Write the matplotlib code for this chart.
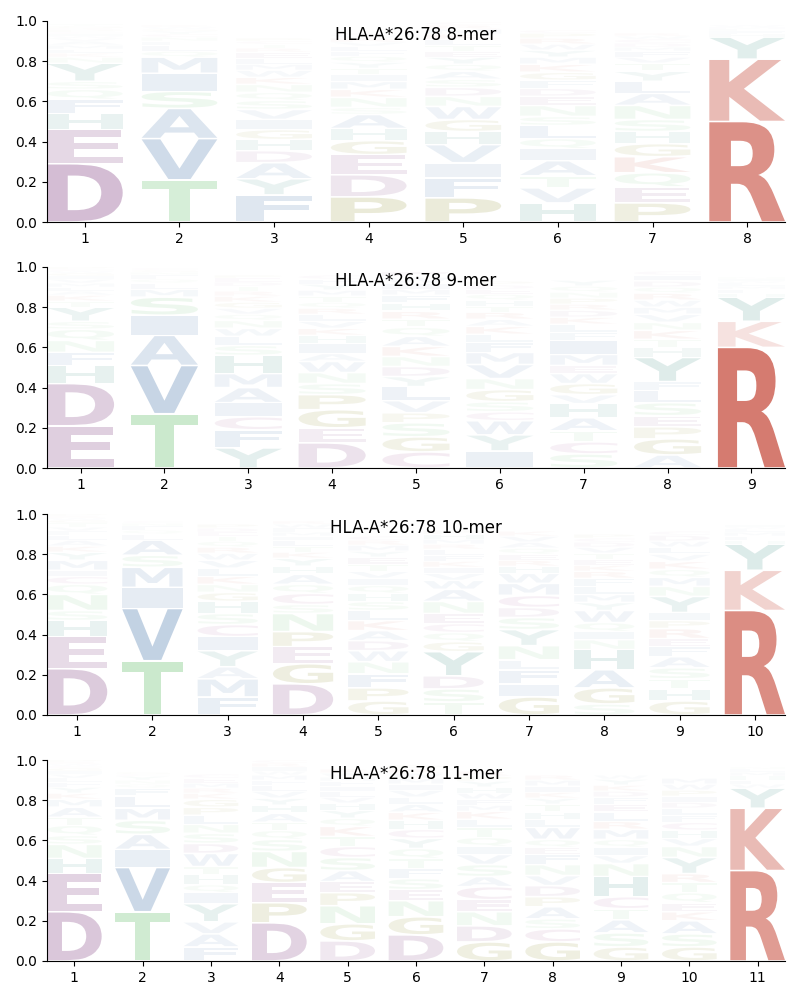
import matplotlib
matplotlib.use("Agg")
import matplotlib.pyplot as plt
from matplotlib.textpath import TextPath
from matplotlib.patches import PathPatch
from matplotlib.font_manager import FontProperties
from matplotlib.transforms import Affine2D

allele = "HLA-A*26:78"
lengths = [8, 9, 10, 11]

# letter frequencies per position, listed bottom -> top as stacked in the logo
mer8 = [
    {'D': .29, 'E': .17, 'H': .08, 'F': .07, 'Q': .05, 'S': .04, 'Y': .09, 'N': .03, 'K': .02, 'L': .02,
     'M': .02, 'A': .02, 'V': .015, 'W': .01, 'I': .01, 'C': .01, 'P': .01, 'R': .01, 'G': .01, 'T': .01},
    {'T': .21, 'V': .205, 'A': .15, 'S': .085, 'I': .09, 'M': .08, 'Q': .03, 'L': .03, 'F': .02, 'N': .02,
     'C': .015, 'Y': .015, 'G': .01, 'W': .01, 'K': .01},
    {'F': .135, 'Y': .08, 'A': .08, 'D': .06, 'H': .055, 'G': .05, 'I': .05, 'V': .05, 'S': .045, 'Q': .04,
     'N': .04, 'K': .035, 'W': .035, 'M': .03, 'L': .03, 'E': .03, 'R': .02, 'T': .02, 'C': .015, 'P': .015},
    {'P': .125, 'D': .11, 'E': .10, 'G': .07, 'H': .06, 'A': .07, 'S': .035, 'N': .05, 'K': .04, 'M': .04,
     'I': .035, 'T': .03, 'Y': .03, 'Q': .03, 'F': .025, 'L': .025, 'V': .02, 'R': .02, 'W': .015, 'C': .01},
    {'P': .12, 'F': .10, 'I': .075, 'V': .09, 'H': .065, 'G': .06, 'W': .065, 'N': .05, 'D': .045, 'S': .04,
     'A': .04, 'Q': .035, 'Y': .035, 'E': .03, 'T': .03, 'L': .03, 'K': .025, 'M': .025, 'R': .02, 'C': .015},
    {'H': .095, 'V': .075, 'T': .06, 'A': .075, 'I': .06, 'Q': .05, 'L': .065, 'S': .045, 'N': .055, 'E': .045,
     'D': .04, 'F': .04, 'G': .04, 'K': .04, 'M': .035, 'Y': .035, 'W': .03, 'R': .03, 'P': .025, 'C': .015},
    {'P': .095, 'E': .08, 'Q': .07, 'K': .08, 'G': .065, 'H': .06, 'S': .06, 'N': .07, 'A': .06, 'L': .06,
     'Y': .05, 'T': .04, 'V': .03, 'F': .03, 'M': .02, 'D': .02, 'C': .02, 'W': .015, 'R': .015},
    {'R': .50, 'K': .31, 'Y': .11, 'H': .015, 'F': .015, 'L': .01, 'M': .01, 'W': .01},
]

mer9 = [
    {'E': .21, 'D': .21, 'H': .09, 'F': .065, 'N': .06, 'Q': .055, 'S': .04, 'Y': .07, 'T': .03, 'K': .03,
     'A': .02, 'L': .02, 'M': .02, 'V': .02, 'I': .015, 'G': .015, 'W': .01, 'C': .01, 'P': .01, 'R': .01},
    {'T': .27, 'V': .24, 'A': .15, 'I': .10, 'S': .09, 'M': .04, 'L': .03, 'Q': .02, 'F': .02, 'N': .015,
     'G': .01, 'C': .01},
    {'Y': .10, 'F': .09, 'C': .065, 'I': .07, 'A': .075, 'M': .07, 'H': .09, 'S': .05, 'L': .045, 'W': .04,
     'N': .04, 'Q': .03, 'V': .03, 'G': .03, 'K': .03, 'R': .025, 'T': .025, 'D': .02, 'E': .02, 'P': .015},
    {'D': .125, 'E': .075, 'G': .09, 'P': .075, 'S': .055, 'N': .055, 'W': .055, 'A': .04, 'I': .05, 'H': .04,
     'K': .035, 'V': .035, 'L': .035, 'R': .03, 'Q': .03, 'T': .03, 'M': .03, 'Y': .03, 'F': .025, 'C': .02},
    {'C': .08, 'G': .075, 'S': .07, 'P': .05, 'V': .06, 'L': .07, 'Y': .05, 'D': .05, 'N': .05, 'K': .05,
     'A': .05, 'Q': .045, 'T': .04, 'R': .04, 'H': .04, 'F': .04, 'M': .03, 'I': .03, 'W': .03, 'E': .03},
    {'I': .085, 'Y': .08, 'W': .07, 'C': .045, 'S': .05, 'G': .06, 'N': .055, 'V': .07, 'M': .06, 'F': .05,
     'L': .04, 'K': .04, 'A': .035, 'R': .035, 'T': .03, 'H': .03, 'Q': .03, 'E': .025, 'D': .02, 'P': .02},
    {'S': .07, 'C': .06, 'T': .055, 'A': .065, 'H': .07, 'V': .045, 'G': .055, 'W': .05, 'E': .04, 'M': .055,
     'I': .07, 'F': .04, 'L': .04, 'K': .035, 'D': .035, 'R': .03, 'P': .03, 'N': .03, 'Q': .03, 'Y': .03},
    {'A': .065, 'G': .08, 'P': .06, 'E': .055, 'S': .065, 'L': .06, 'F': .045, 'Y': .12, 'H': .05, 'T': .04,
     'K': .045, 'N': .04, 'V': .04, 'M': .035, 'W': .035, 'R': .035, 'Q': .03, 'D': .03, 'I': .03, 'C': .02},
    {'R': .60, 'K': .13, 'Y': .12, 'H': .02, 'F': .02, 'M': .015, 'L': .015, 'W': .01, 'I': .01, 'N': .01},
]

mer10 = [
    {'D': .23, 'E': .16, 'H': .08, 'S': .05, 'N': .08, 'Q': .05, 'C': .04, 'I': .03, 'M': .05, 'Y': .04,
     'K': .03, 'A': .03, 'L': .025, 'F': .02, 'V': .02, 'T': .02, 'G': .015, 'W': .01, 'R': .01, 'P': .01},
    {'T': .27, 'V': .26, 'I': .105, 'M': .10, 'S': .06, 'A': .075, 'L': .03, 'Q': .02, 'F': .02, 'N': .015,
     'C': .01},
    {'F': .09, 'M': .09, 'A': .06, 'Y': .08, 'I': .07, 'C': .06, 'S': .055, 'H': .06, 'G': .045, 'N': .04,
     'K': .04, 'L': .04, 'V': .04, 'W': .035, 'R': .03, 'Q': .03, 'T': .025, 'E': .02, 'D': .02, 'P': .02},
    {'D': .155, 'G': .10, 'E': .085, 'P': .075, 'N': .09, 'S': .045, 'C': .055, 'Q': .045, 'A': .05, 'H': .04,
     'Y': .04, 'K': .03, 'T': .03, 'L': .03, 'I': .02, 'M': .02, 'F': .02, 'W': .02, 'R': .015},
    {'G': .07, 'P': .065, 'F': .07, 'N': .06, 'W': .055, 'D': .05, 'A': .05, 'K': .05, 'L': .05, 'S': .045,
     'H': .04, 'Q': .04, 'I': .035, 'V': .035, 'T': .035, 'E': .035, 'Y': .03, 'M': .03, 'R': .025, 'C': .02},
    {'T': .065, 'S': .065, 'D': .065, 'Y': .12, 'G': .05, 'Q': .045, 'C': .045, 'E': .05, 'N': .06, 'A': .06,
     'W': .045, 'V': .035, 'I': .03, 'K': .03, 'F': .03, 'L': .03, 'R': .025, 'M': .025, 'H': .025, 'P': .02},
    {'G': .09, 'I': .065, 'F': .07, 'L': .05, 'N': .07, 'Y': .08, 'S': .06, 'D': .05, 'C': .06, 'M': .06,
     'W': .05, 'H': .035, 'R': .03, 'E': .03, 'Q': .03, 'A': .03, 'V': .03, 'K': .025},
    {'S': .055, 'G': .08, 'A': .09, 'H': .10, 'N': .05, 'I': .04, 'Q': .045, 'W': .06, 'Y': .04, 'M': .04,
     'L': .04, 'F': .04, 'R': .035, 'K': .03, 'E': .03, 'T': .03, 'V': .03, 'D': .025, 'C': .02, 'P': .02},
    {'G': .07, 'H': .06, 'T': .05, 'S': .055, 'A': .055, 'F': .05, 'E': .04, 'R': .05, 'P': .04, 'I': .04,
     'Y': .08, 'N': .05, 'M': .045, 'Q': .04, 'K': .04, 'V': .035, 'L': .035, 'W': .03, 'D': .03, 'C': .02},
    {'R': .52, 'K': .20, 'Y': .13, 'H': .02, 'F': .02, 'M': .02, 'L': .015, 'W': .01, 'I': .01},
]

mer11 = [
    {'D': .245, 'E': .19, 'H': .075, 'N': .07, 'S': .045, 'Q': .05, 'T': .04, 'A': .05, 'M': .04, 'K': .03,
     'Y': .03, 'F': .025, 'L': .02, 'V': .02, 'I': .015, 'G': .015, 'C': .01, 'W': .01, 'R': .01, 'P': .01},
    {'T': .245, 'V': .22, 'I': .09, 'A': .075, 'S': .07, 'M': .06, 'L': .06, 'F': .04, 'Q': .02, 'N': .02,
     'Y': .02, 'C': .01, 'G': .01},
    {'F': .07, 'A': .065, 'V': .06, 'Y': .09, 'I': .055, 'Q': .04, 'H': .05, 'T': .04, 'W': .065, 'D': .05,
     'S': .05, 'N': .045, 'L': .045, 'P': .04, 'G': .04, 'K': .03, 'R': .025, 'M': .025, 'E': .025, 'C': .02},
    {'D': .19, 'P': .10, 'E': .10, 'G': .075, 'N': .08, 'S': .06, 'Q': .045, 'T': .04, 'A': .045, 'H': .04,
     'Y': .035, 'V': .035, 'L': .03, 'F': .025, 'M': .025, 'W': .02, 'I': .02, 'R': .02, 'C': .015},
    {'D': .10, 'G': .085, 'N': .09, 'P': .065, 'E': .055, 'A': .055, 'S': .065, 'C': .055, 'T': .05, 'K': .05,
     'Q': .04, 'Y': .04, 'H': .035, 'V': .03, 'L': .03, 'I': .025, 'F': .025, 'M': .02, 'W': .02, 'R': .02},
    {'D': .13, 'G': .09, 'N': .08, 'E': .055, 'S': .055, 'F': .05, 'T': .05, 'Q': .05, 'Y': .05, 'C': .045,
     'H': .045, 'K': .04, 'A': .04, 'L': .035, 'V': .035, 'I': .03, 'M': .03, 'W': .025, 'R': .02, 'P': .02},
    {'G': .095, 'D': .08, 'N': .07, 'E': .06, 'C': .065, 'A': .05, 'S': .06, 'V': .05, 'I': .04, 'Q': .045,
     'T': .05, 'L': .04, 'K': .04, 'M': .03, 'F': .03, 'W': .03, 'H': .03, 'Y': .03, 'P': .025, 'R': .025},
    {'G': .095, 'C': .065, 'S': .05, 'A': .06, 'P': .05, 'D': .055, 'V': .05, 'N': .055, 'F': .05, 'E': .035,
     'Q': .04, 'W': .06, 'L': .04, 'H': .035, 'T': .04, 'Y': .03, 'K': .03, 'I': .03, 'M': .03, 'R': .025},
    {'G': .07, 'S': .07, 'A': .065, 'T': .055, 'C': .06, 'H': .10, 'N': .065, 'V': .04, 'I': .04, 'Q': .04,
     'M': .05, 'R': .04, 'L': .045, 'E': .04, 'F': .035, 'D': .03, 'K': .03, 'Y': .03, 'W': .02},
    {'G': .07, 'S': .065, 'A': .065, 'K': .045, 'E': .045, 'Q': .05, 'T': .05, 'R': .045, 'Y': .08, 'N': .055,
     'V': .04, 'H': .04, 'C': .04, 'F': .035, 'L': .035, 'D': .03, 'I': .03, 'P': .03, 'W': .03, 'M': .03},
    {'R': .45, 'K': .31, 'Y': .10, 'W': .02, 'F': .02, 'H': .02, 'M': .02, 'L': .015, 'N': .01},
]

panels = [mer8, mer9, mer10, mer11]

red, purple, green = "#d4766a", "#a272a2", "#88ce8d"
blue, teal, olive, pink = "#6e93bd", "#5aa096", "#9a9a40", "#b06aa0"
colors = {}
for c in "RK": colors[c] = red
for c in "DE": colors[c] = purple
for c in "TSNQ": colors[c] = green
for c in "VAILMFW": colors[c] = blue
for c in "YH": colors[c] = teal
for c in "PG": colors[c] = olive
colors['C'] = pink

fp = FontProperties(family="DejaVu Sans", weight="bold")


def draw_letter(ax, ch, x, y, h, width=0.8, **kw):
    path = TextPath((0, 0), ch, size=1, prop=fp)
    bb = path.get_extents()
    t = (Affine2D().translate(-bb.x0, -bb.y0)
         .scale(width / bb.width, h / bb.height)
         .translate(x - width / 2, y))
    ax.add_patch(PathPatch(t.transform_path(path), lw=0, edgecolor='none', **kw))


fig = plt.figure(figsize=(8, 10), dpi=100)
bottoms = [0.778, 0.532, 0.285, 0.039]

for n, data, b in zip(lengths, panels, bottoms):
    ax = fig.add_axes([0.05875, b, 0.9225, 0.201])
    for i, col in enumerate(data):
        pos = i + 1
        y = 0
        for ch, f in col.items():
            pad = min(0.004, 0.1 * f)
            draw_letter(ax, ch, pos, y + pad, f - 2 * pad,
                        facecolor=colors[ch], alpha=min(1.0, 1.6 * f))
            y += f
    ax.set_xlim(0.6, n + 0.4)
    ax.set_ylim(0, 1)
    ax.set_xticks(range(1, n + 1))
    ax.set_yticks([0, 0.2, 0.4, 0.6, 0.8, 1.0])
    ax.spines['top'].set_visible(False)
    ax.spines['right'].set_visible(False)
    ax.text(0.5, 0.928, f"{allele} {n}-mer", transform=ax.transAxes,
            ha='center', va='center', fontsize=12)

fig.savefig("out.png", dpi=100)
